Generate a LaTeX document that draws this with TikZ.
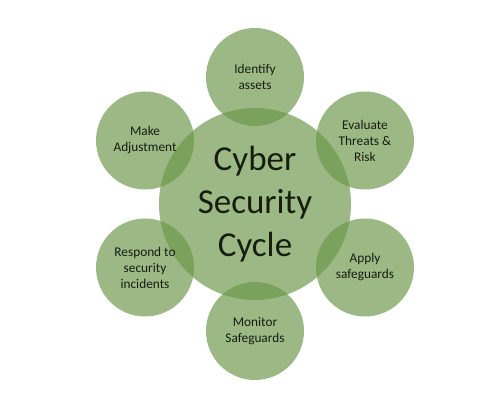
\documentclass[tikz,border=0pt]{standalone}
\usepackage{fontspec}
\setmainfont{Carlito}
\usepackage{tikz}
\usetikzlibrary{calc}
\definecolor{leafgreen}{RGB}{107,151,75}
\definecolor{inkgreen}{RGB}{22,30,16}
\tikzset{
every node/.style={text=inkgreen, align=center}, % dark text everywhere
hub/.style={circle, fill=leafgreen, fill opacity=0.68, text opacity=1, minimum size=192pt, inner sep=0pt, font=\fontsize{35}{43}\selectfont}, % the big middle circle
stage/.style={circle, fill=leafgreen, fill opacity=0.68, text opacity=1, minimum size=98pt, inner sep=0pt, font=\fontsize{13.3}{16}\selectfont}, % the six small circles
}

\begin{document}
\begin{tikzpicture}
            \useasboundingbox (0,0) rectangle (496pt,402pt);
            \coordinate (mid) at (255pt,198pt);
            \node[hub] (cycle) at (mid) {Cyber\\Security\\Cycle};
            \node[stage] (identify) at ($(mid)+(90:127pt)$) {Identify\\assets};
            \node[stage] (evaluate) at ($(mid)+(30:127pt)$) {Evaluate\\Threats \&\\Risk};
            \node[stage] (apply) at ($(mid)+(-30:127pt)$) {Apply\\safeguards};
            \node[stage] (monitor) at ($(mid)+(-90:127pt)$) {Monitor\\Safeguards};
            \node[stage] (respond) at ($(mid)+(210:127pt)$) {Respond to\\security\\incidents};
            \node[stage] (adjust) at ($(mid)+(150:127pt)$) {Make\\Adjustment};
        \end{tikzpicture}
\end{document}
